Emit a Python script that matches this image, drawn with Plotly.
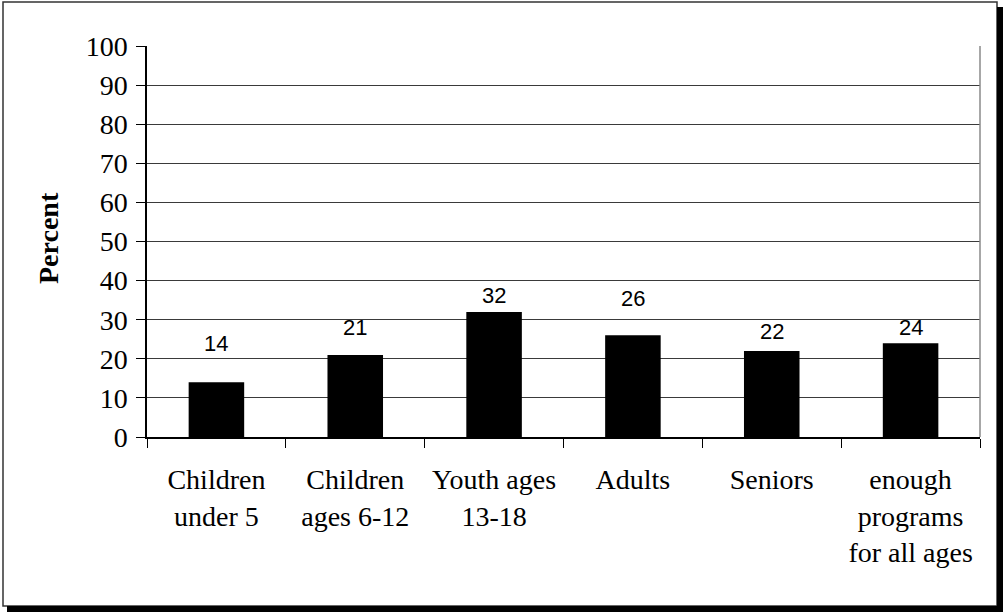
import plotly.graph_objects as go

categories = ["Children<br>under 5", "Children<br>ages 6-12", "Youth ages<br>13-18",
              "Adults", "Seniors", "enough<br>programs<br>for all ages"]
values = [14, 21, 32, 26, 22, 24]
value_labels = ["14", "21", "32", "26", "22", "24"]
y_ticks = [0, 10, 20, 30, 40, 50, 60, 70, 80, 90, 100]
# vertical offsets (px) of each data label above its bar top (style only)
label_offsets = [39, 27, 16, 37, 19, 16]

W, H = 1003, 612
ML, MR, MT, MB = 147, 23, 46, 175
PW, PH = W - ML - MR, H - MT - MB


def px_x(px):
    return (px - ML) / PW


def px_y(py):
    return (H - MB - py) / PH


fig = go.Figure()
fig.add_trace(go.Bar(
    x=categories, y=values,
    marker=dict(color="black", line=dict(color="black", width=0)),
    hoverinfo="skip",
))

for c, v, t, off in zip(categories, values, value_labels, label_offsets):
    fig.add_annotation(x=c, y=v, text=t, showarrow=False, yanchor="middle",
                       yshift=off, font=dict(family="Liberation Sans, Arial", size=22, color="black"))

fig.add_annotation(xref="paper", yref="paper", x=px_x(48), y=px_y(238), text="<b>Percent</b>",
                   textangle=-90, showarrow=False, xanchor="center", yanchor="middle",
                   font=dict(family="Liberation Serif, Times New Roman", size=28, color="black"))

shapes = [
    # right plot border
    dict(type="line", xref="paper", yref="paper", x0=1, x1=1, y0=0, y1=1,
         line=dict(color="#8a8a8a", width=1.5)),
    # outer frame
    dict(type="rect", xref="paper", yref="paper", x0=px_x(3), x1=px_x(997), y0=px_y(2), y1=px_y(606),
         line=dict(color="#333333", width=1.5), layer="below"),
    # shadow right
    dict(type="rect", xref="paper", yref="paper", x0=px_x(997), x1=px_x(1004), y0=px_y(7), y1=px_y(613),
         fillcolor="black", line=dict(width=0)),
    # shadow bottom
    dict(type="rect", xref="paper", yref="paper", x0=px_x(7), x1=px_x(1004), y0=px_y(606), y1=px_y(613),
         fillcolor="black", line=dict(width=0)),
]

fig.update_layout(
    width=W, height=H,
    margin=dict(l=ML, r=MR, t=MT, b=MB, pad=0),
    paper_bgcolor="white", plot_bgcolor="white",
    showlegend=False, bargap=0.6,
    shapes=shapes,
    xaxis=dict(
        type="category", tickson="boundaries", ticks="outside", ticklen=9, tickwidth=1,
        tickcolor="black", showline=True, linecolor="black", linewidth=1.5,
        showgrid=False, zeroline=False, ticklabelstandoff=17,
        tickfont=dict(family="Liberation Serif, Times New Roman", size=28, color="black"),
        fixedrange=True,
    ),
    yaxis=dict(
        range=[0, 100], tickmode="array", tickvals=y_ticks, ticktext=[str(t) for t in y_ticks],
        ticks="outside", ticklen=9, tickwidth=1, tickcolor="black",
        showline=True, linecolor="black", linewidth=1.5,
        showgrid=True, gridcolor="#3a3a3a", gridwidth=1, zeroline=False,
        ticklabelstandoff=3,
        tickfont=dict(family="Liberation Serif, Times New Roman", size=28, color="black"),
        fixedrange=True,
    ),
)

fig.write_html("out.html")
